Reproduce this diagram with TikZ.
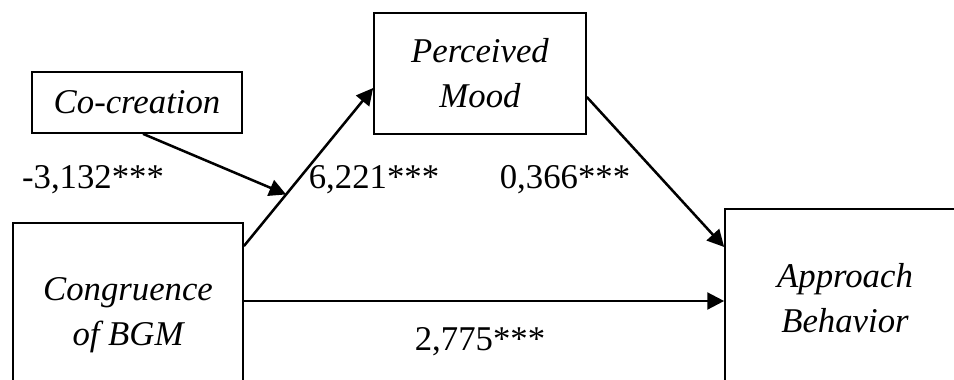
\documentclass[tikz,border=0pt]{standalone}
\usepackage{fontspec}
\setmainfont{Liberation Serif}
\usetikzlibrary{positioning,calc,arrows.meta}
\newcommand{\pxu}{0.357pt}

\begin{document}
\begin{tikzpicture}[x=\pxu, y=-\pxu,
    box/.style={draw, line width=0.6pt, align=center, inner sep=0pt,
      font=\itshape\fontsize{12.4}{16}\selectfont},
    lbl/.style={inner sep=0pt, font=\fontsize{12.4}{14}\selectfont},
    conn/.style={line width=0.9pt, -{Triangle[length=6pt, width=6pt]}}]
  \path[use as bounding box, clip] (0,0) rectangle (954,380);
  % variables
  \node[box, minimum width=210*\pxu, minimum height=61*\pxu] (cocr) at (137,102.5) {Co-creation};
  \node[box, minimum width=212*\pxu, minimum height=121*\pxu] (mood) at (480,73.5) {Perceived\\Mood};
  \node[box, minimum width=230*\pxu, minimum height=184*\pxu] (cong) at (128,315) {Congruence\\of BGM};
  \node[box, minimum width=240*\pxu, minimum height=178*\pxu] (appr) at (845,298) {Approach\\Behavior};
  % paths
  \coordinate (congup) at ([yshift=-24*\pxu]cong.north east);
  \coordinate (moodin) at ([yshift=-14.5*\pxu]mood.west);
  \coordinate (modpt) at ($(congup)!0.327!(moodin)$);
  \coordinate (congmid) at ([yshift=14*\pxu]cong.east);
  \draw[conn] (congup) -- (moodin);
  \draw[conn] ([xshift=6*\pxu]cocr.south) -- (modpt);
  \draw[conn] ([yshift=-23.5*\pxu]mood.east) -- ([yshift=51*\pxu]appr.west);
  \draw[conn] (congmid) -- (congmid -| appr.west);
  % coefficients
  \node[lbl] (bmod) at (93,180) {-3,132***};
  \node[lbl] (ba) at (374,180) {6,221***};
  \node[lbl] (bb) at (565,180) {0,366***};
  \node[lbl] (bc) at (480,342) {2,775***};
\end{tikzpicture}
\end{document}
